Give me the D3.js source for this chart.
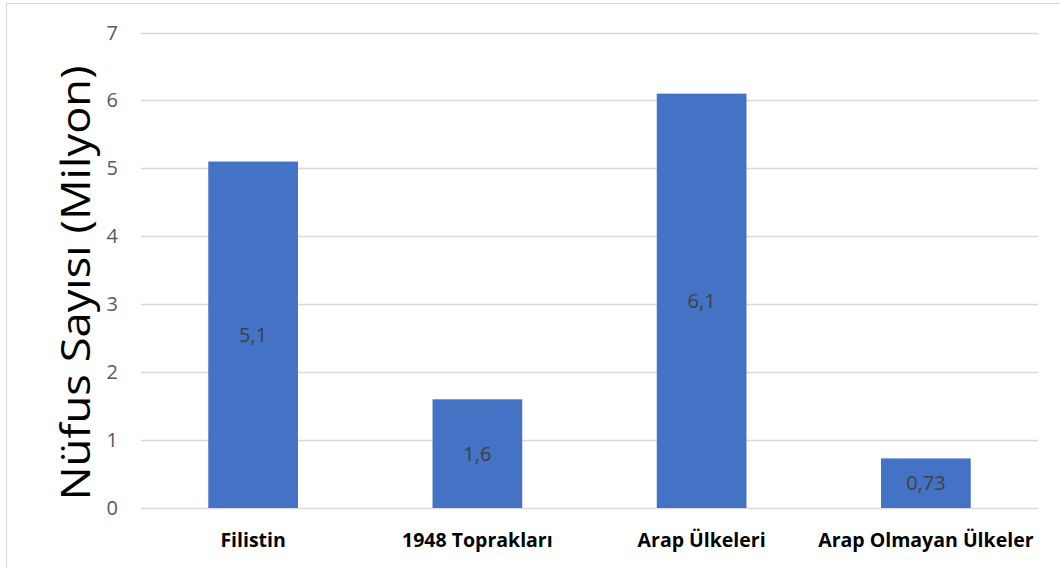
<!DOCTYPE html>
<html>
<head>
<meta charset="utf-8">
<script src="https://cdn.jsdelivr.net/npm/d3@7"></script>
<style>
  body { margin: 0; background: #fff; }
  text { font-family: "Open Sans", "Liberation Sans", sans-serif; }
</style>
</head>
<body>
<script>
var categories = ["Filistin", "1948 Toprakları", "Arap Ülkeleri", "Arap Olmayan Ülkeler"];
var values = [5.1, 1.6, 6.1, 0.73];
var valueLabels = ["5,1", "1,6", "6,1", "0,73"];
var yTicks = [0, 1, 2, 3, 4, 5, 6, 7];

(function(){
var width = 1060, height = 568;
var plotLeft = 141, plotRight = 1038, plotTop = 32.5, plotBottom = 508;

var svg = d3.select("body").append("svg")
    .attr("width", width)
    .attr("height", height);

// chart frame
svg.append("rect")
    .attr("x", 6.5).attr("y", 3.5)
    .attr("width", 1060).attr("height", 600)
    .attr("fill", "#fff")
    .attr("stroke", "#d9d9d9");

var x = d3.scaleBand()
    .domain(categories)
    .range([plotLeft, plotRight])
    .paddingInner(0.6)
    .paddingOuter(0.3);

var y = d3.scaleLinear()
    .domain([0, 7])
    .range([plotBottom, plotTop]);

// gridlines
svg.selectAll(".grid")
    .data(yTicks)
    .enter().append("line")
    .attr("class", "grid")
    .attr("x1", plotLeft).attr("x2", plotRight)
    .attr("y1", function(d){ return Math.round(y(d)) + 0.5; })
    .attr("y2", function(d){ return Math.round(y(d)) + 0.5; })
    .attr("stroke", "#d9d9d9")
    .attr("stroke-width", 1.5);

// y tick labels
svg.selectAll(".ytick")
    .data(yTicks)
    .enter().append("text")
    .attr("class", "ytick")
    .attr("x", 118)
    .attr("y", function(d){ return y(d); })
    .attr("dy", "0.35em")
    .attr("text-anchor", "end")
    .attr("font-size", 20)
    .attr("fill", "#595959")
    .text(function(d){ return d; });

// bars
svg.selectAll(".bar")
    .data(values)
    .enter().append("rect")
    .attr("class", "bar")
    .attr("x", function(d, i){ return x(categories[i]); })
    .attr("width", x.bandwidth())
    .attr("y", function(d){ return y(d); })
    .attr("height", function(d){ return y(0) - y(d); })
    .attr("fill", "#4472c4");

// value labels in bar middle
svg.selectAll(".vlabel")
    .data(values)
    .enter().append("text")
    .attr("class", "vlabel")
    .attr("x", function(d, i){ return x(categories[i]) + x.bandwidth() / 2; })
    .attr("y", function(d){ return (y(d) + y(0)) / 2; })
    .attr("dy", "0.35em")
    .attr("text-anchor", "middle")
    .attr("font-size", 20)
    .attr("fill", "#404040")
    .text(function(d, i){ return valueLabels[i]; });

// category labels
svg.selectAll(".xlabel")
    .data(categories)
    .enter().append("text")
    .attr("class", "xlabel")
    .attr("x", function(d){ return x(d) + x.bandwidth() / 2; })
    .attr("y", 540)
    .attr("dy", "0.35em")
    .attr("text-anchor", "middle")
    .attr("font-size", 19.5)
    .attr("font-weight", "bold")
    .attr("fill", "#000")
    .text(function(d){ return d; });

// y axis title
svg.append("text")
    .attr("transform", "translate(76,283) rotate(-90)")
    .attr("dy", "0.35em")
    .attr("text-anchor", "middle")
    .attr("font-size", 41)
    .attr("textLength", 435)
    .attr("lengthAdjust", "spacingAndGlyphs")
    .attr("fill", "#000")
    .text("Nüfus Sayısı (Milyon)");
})();
</script>
</body>
</html>
